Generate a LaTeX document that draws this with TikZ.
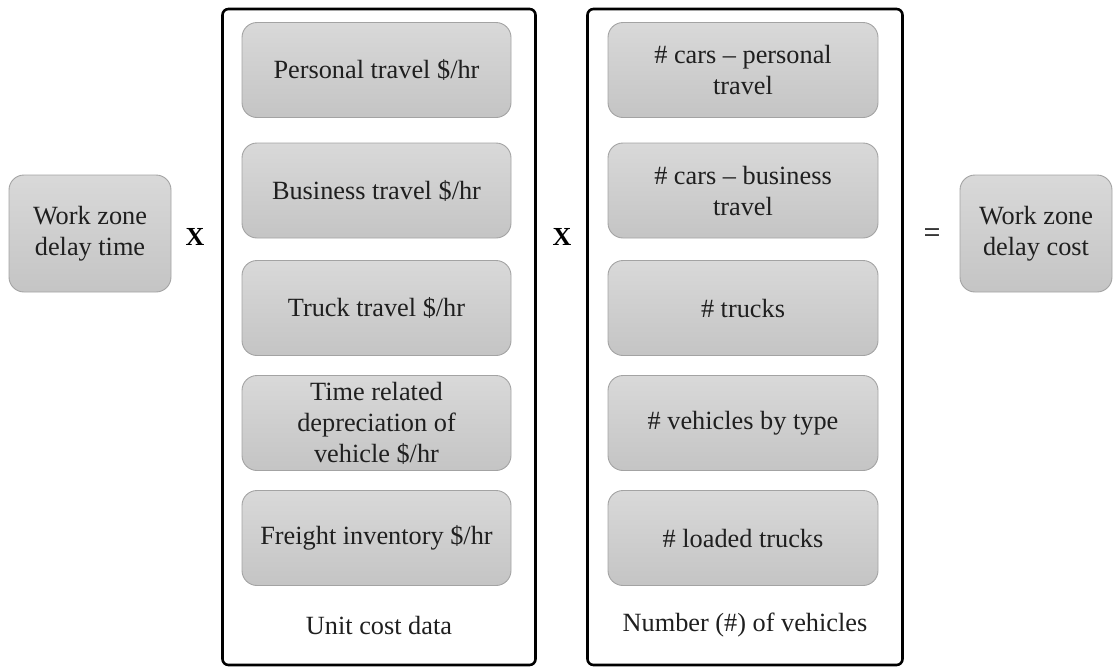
\documentclass[tikz,border=0pt]{standalone}
\usepackage{fontspec}
\setmainfont{Liberation Serif}
\begin{document}
\begin{tikzpicture}[x=1pt,y=-1pt,
  txt/.style={font=\fontsize{26.3}{31}\selectfont, text=black!88, align=center, inner sep=0pt},
  graybox/.style={txt, draw=black!36, line width=0.9pt, rounded corners=15pt,
    top color=black!15, bottom color=black!23, minimum width=269pt, minimum height=95pt},
  endbox/.style={graybox, minimum width=#1, minimum height=117pt},
  panel/.style={draw=black, line width=2.6pt, rounded corners=6pt, inner sep=0pt},
  op/.style={font=\fontsize{26}{30}\selectfont\bfseries, inner sep=0pt},
  eqop/.style={font=\fontsize{30}{30}\selectfont, inner sep=0pt}]
\useasboundingbox (0,0) rectangle (1120,670);

% outer frames of the two groups
\node[panel, minimum width=313pt, minimum height=656pt] (costpanel) at (379,337) {};
\node[panel, minimum width=315pt, minimum height=656pt] (vehpanel) at (745,337) {};

% input and result
\node[endbox=162pt] (delaytime) at (90,233.5) {Work zone\\delay time};
\node[endbox=152pt] (delaycost) at (1036,233.5) {Work zone\\delay cost};

% operators
\node[op] (times1) at (195,237) {X};
\node[op] (times2) at (562,237) {X};
\node[eqop] (equals) at (932,236) {=};

% unit cost data
\node[graybox] (personal) at (376.5,70) {Personal travel \$/hr};
\node[graybox] (business) at (376.5,190.5) {Business travel \$/hr};
\node[graybox] (truck) at (376.5,308) {Truck travel \$/hr};
\node[graybox] (depr) at (376.5,423) {Time related\\depreciation of\\vehicle \$/hr};
\node[graybox] (freight) at (376.5,538) {Freight inventory \$/hr};
\node[txt] (costlabel) at (379,625) {Unit cost data};

% number of vehicles
\node[graybox, minimum width=270pt] (carsp) at (743,70) {\# cars -- personal\\travel};
\node[graybox, minimum width=270pt] (carsb) at (743,190.5) {\# cars -- business\\travel};
\node[graybox, minimum width=270pt] (trucks) at (743,308) {\# trucks};
\node[graybox, minimum width=270pt] (bytype) at (743,423) {\# vehicles by type};
\node[graybox, minimum width=270pt] (loaded) at (743,538) {\# loaded trucks};
\node[txt] (vehlabel) at (745,625) {Number (\#) of vehicles};
\end{tikzpicture}
\end{document}
